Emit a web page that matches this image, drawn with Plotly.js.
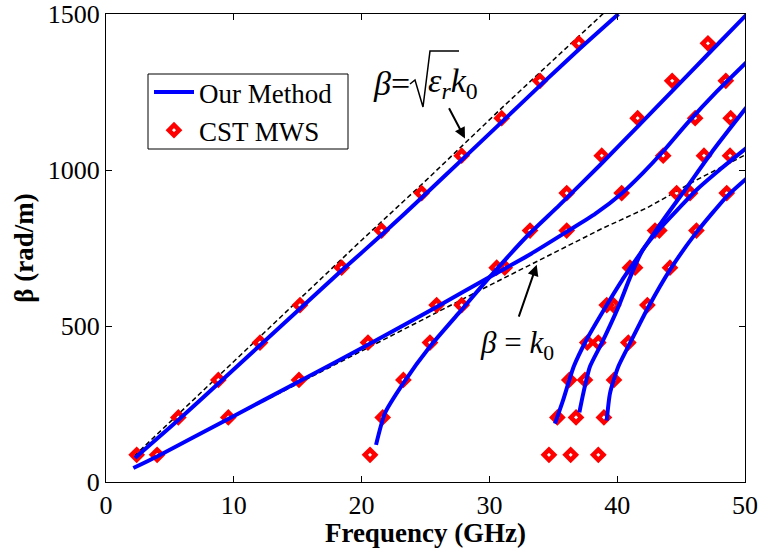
<!DOCTYPE html>
<html>
<head>
<meta charset="utf-8">
<script src="https://cdn.plot.ly/plotly-3.0.1.min.js"></script>
<style>html,body{margin:0;padding:0;background:#fff;}#chart{width:760px;height:548px;}</style>
</head>
<body>
<div id="chart"></div>
<script>
// ---- Our Method (blue curves), frequency in GHz, beta in rad/m ----
const mode1Freq = [2.27, 5.7, 8.9, 12.1, 15.3, 18.5, 21.7, 24.8, 27.9, 31.0, 34.0, 37.1, 40.1];
const mode1Beta = [77, 200, 320, 440, 560, 680, 797, 915, 1035, 1155, 1272, 1390, 1500];
const mode2Freq = [2.14, 4.0, 9.6, 15.1, 20.5, 25.9, 30.05, 33.0, 36.05, 38.3, 40.35, 42.0, 43.6, 45.44, 47.8, 50.1];
const mode2Beta = [45, 82, 203, 322, 440, 562, 658, 725, 802, 860, 925, 990, 1060, 1148, 1252, 1345];
const mode3Freq = [21.13, 21.83, 23.27, 25.35, 27.7, 30.05, 32.9, 35.5, 38.66, 41.6, 44.3, 47.1, 50.1];
const mode3Beta = [119, 221, 317, 434, 546, 658, 786, 888, 1016, 1139, 1253, 1371, 1497];
const mode4Freq = [35.13, 35.78, 36.6, 37.6, 38.8, 40.4, 42.0, 43.6, 45.3, 47.6, 50.1];
const mode4Beta = [187, 264, 370, 456, 541, 648, 744, 840, 936, 1068, 1200];
const mode5Freq = [37.04, 37.35, 37.87, 38.79, 40.1, 41.0, 42.0, 43.3, 44.8, 46.2, 48.0, 50.1];
const mode5Beta = [223, 285, 370, 445, 562, 655, 744, 810, 876, 936, 1000, 1070];
const mode6Freq = [39.18, 39.44, 40.09, 41.0, 42.43, 44.13, 46.2, 48.57, 50.1];
const mode6Beta = [197, 285, 370, 445, 560, 680, 800, 915, 972];

// ---- CST MWS (red diamonds) ----
const cstFreq = [
  2.4, 4.0, 20.66, 34.66, 36.36, 38.52,
  5.66, 9.57, 21.65, 35.32, 36.78, 38.96,
  8.79, 15.1, 23.27, 36.25, 37.48, 39.75,
  12.05, 20.5, 25.35, 37.66, 38.52, 40.87,
  15.18, 25.87, 27.83, 39.18, 39.7, 42.36,
  18.44, 31.2, 30.57, 41.0, 41.4, 44.13,
  21.57, 36.05, 33.18, 42.96, 43.3, 46.2,
  24.7, 40.35, 36.05, 44.65, 45.7, 48.57,
  27.83, 43.6, 38.79, 46.79, 48.83,
  30.96, 46.1, 41.6, 48.88,
  33.96, 48.5, 44.3,
  37.0, 47.1
];
const cstBeta = [
  87, 87, 87, 87, 87, 87,
  207, 207, 207, 207, 207, 207,
  327, 327, 327, 327, 327, 327,
  447, 447, 447, 447, 447, 447,
  567, 567, 567, 567, 567, 567,
  687, 687, 687, 687, 687, 687,
  806, 806, 806, 806, 806, 806,
  926, 926, 926, 926, 926, 926,
  1046, 1046, 1046, 1046, 1046,
  1166, 1166, 1166, 1166,
  1286, 1286, 1286,
  1406, 1406
];

// ---- light lines (dashed) ----
const k0Freq = [2.2, 10, 20, 30, 38.7, 42.4, 46.2, 50.1];
const k0Beta = [46, 210, 422, 630, 810, 880, 968, 1050];
const erFreq = [2.2, 12, 20, 25, 31, 39.0];
const erBeta = [83, 465, 775, 965, 1200, 1505];

const FONT = 'Liberation Serif, Times New Roman, Times, serif';
const BLUE = '#0000ff';
const L = 106, R = 745, T = 14, B = 482;
const px = x => (x - L) / (R - L);
const py = y => (B - y) / (B - T);

const dashStyle = {color: '#000', width: 1.5, dash: '5px,3px'};
const traces = [
  {x: k0Freq, y: k0Beta, mode: 'lines', line: dashStyle, showlegend: false, hoverinfo: 'skip'},
  {x: erFreq, y: erBeta, mode: 'lines', line: dashStyle, showlegend: false, hoverinfo: 'skip'},
  {x: cstFreq, y: cstBeta, mode: 'markers', name: 'CST MWS', legendrank: 2,
   marker: {symbol: 'diamond-open', size: 8, color: '#ff0000', line: {color: '#ff0000', width: 4.5}}}
];
const modes = [[mode1Freq, mode1Beta], [mode2Freq, mode2Beta], [mode3Freq, mode3Beta],
               [mode4Freq, mode4Beta], [mode5Freq, mode5Beta], [mode6Freq, mode6Beta]];
modes.forEach((m, i) => {
  traces.push({x: m[0], y: m[1], mode: 'lines', name: 'Our Method', legendrank: 1,
    showlegend: i === 0, line: {color: BLUE, width: 4, shape: 'spline', smoothing: 0.6}});
});

const axisCommon = {
  showline: true, linecolor: '#000', linewidth: 1, mirror: 'ticks',
  ticks: 'inside', ticklen: 6, tickwidth: 1, tickcolor: '#000',
  showgrid: false, zeroline: false,
  tickfont: {family: FONT, size: 26, color: '#000'}
};

const layout = {
  width: 760, height: 548,
  margin: {l: L, r: 760 - R, t: T, b: 548 - B},
  paper_bgcolor: '#fff', plot_bgcolor: '#fff',
  font: {family: FONT, color: '#000'},
  xaxis: Object.assign({}, axisCommon, {
    range: [0, 50], dtick: 10, tick0: 0, automargin: false,
    title: {text: '<b>Frequency (GHz)</b>', font: {family: FONT, size: 27, color: '#000'}, standoff: 0}
  }),
  yaxis: Object.assign({}, axisCommon, {
    range: [0, 1500], dtick: 500, tick0: 0, automargin: false,
    title: {text: '<b>β (rad/m)</b>', font: {family: FONT, size: 27, color: '#000'}, standoff: 6}
  }),
  legend: {
    x: px(149), y: py(68), xanchor: 'left', yanchor: 'top',
    bgcolor: 'rgba(0,0,0,0)', borderwidth: 0,
    font: {family: FONT, size: 27, color: '#000'},
    itemwidth: 40, traceorder: 'normal', tracegroupgap: 0
  },
  shapes: [
    {type: 'rect', xref: 'paper', yref: 'paper', x0: px(148), x1: px(348), y0: py(149), y1: py(74),
     line: {color: '#000', width: 1}, fillcolor: 'rgba(0,0,0,0)', layer: 'above'},
    {type: 'path', xref: 'paper', yref: 'paper',
     path: `M ${px(410)} ${py(84)} L ${px(415)} ${py(80)} L ${px(423)} ${py(107)} L ${px(430)} ${py(51)} L ${px(459)} ${py(51)}`,
     line: {color: '#000', width: 1.5}}
  ],
  annotations: [
    {xref: 'paper', yref: 'paper', x: px(412), y: py(83), xanchor: 'right', yanchor: 'middle',
     text: '<i>β</i>=', showarrow: false, font: {family: FONT, size: 34, color: '#000'}},
    {xref: 'paper', yref: 'paper', x: px(426), y: py(83), xanchor: 'left', yanchor: 'middle',
     text: '<i>ε</i><sub><i>r</i></sub><i>k</i><sub>0</sub>', showarrow: false,
     font: {family: FONT, size: 34, color: '#000'}},
    {xref: 'x', yref: 'y', x: 28.09, y: 1101, axref: 'x', ayref: 'y', ax: 26.78, ay: 1203,
     text: '', showarrow: true, arrowhead: 2, arrowsize: 1.1, arrowwidth: 2, arrowcolor: '#000', standoff: 0},
    {xref: 'x', yref: 'y', x: 33.7, y: 696, axref: 'x', ayref: 'y', ax: 32.26, ay: 525,
     text: '', showarrow: true, arrowhead: 2, arrowsize: 1.1, arrowwidth: 2, arrowcolor: '#000', standoff: 0},
    {xref: 'paper', yref: 'paper', x: px(517), y: py(345), xanchor: 'center', yanchor: 'middle',
     text: '<i>β</i> = <i>k</i><sub>0</sub>', showarrow: false, font: {family: FONT, size: 31, color: '#000'}}
  ]
};

Plotly.newPlot('chart', traces, layout, {staticPlot: true, displayModeBar: false});
</script>
</body>
</html>
